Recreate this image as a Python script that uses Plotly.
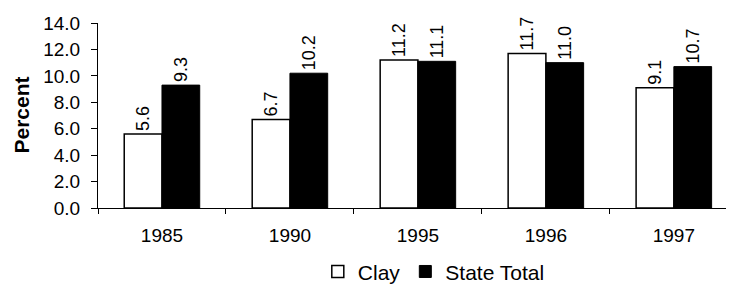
import plotly.graph_objects as go

years = ["1985", "1990", "1995", "1996", "1997"]
clay = [5.6, 6.7, 11.2, 11.7, 9.1]
state_total = [9.3, 10.2, 11.1, 11.0, 10.7]
y_ticks = [0, 2, 4, 6, 8, 10, 12, 14]

FONT = "Arial, Liberation Sans, sans-serif"

fig = go.Figure()
fig.add_trace(go.Bar(
    x=years, y=clay, name="Clay",
    marker=dict(color="white", line=dict(color="black", width=1.5)),
    text=[f"{v:.1f}" for v in clay], textposition="outside", textangle=-90,
    textfont=dict(family=FONT, size=18, color="black"),
    cliponaxis=False,
))
fig.add_trace(go.Bar(
    x=years, y=state_total, name="State Total",
    marker=dict(color="black", line=dict(color="black", width=1)),
    text=[f"{v:.1f}" for v in state_total], textposition="outside", textangle=-90,
    textfont=dict(family=FONT, size=18, color="black"),
    cliponaxis=False,
))

# the page body has an 8px margin, so the figure is offset by (8, 8)
fig.update_layout(
    width=726, height=279,
    margin=dict(l=90, r=0, t=15, b=79, autoexpand=False),
    paper_bgcolor="white", plot_bgcolor="white",
    barmode="group", bargap=0.41, bargroupgap=0,
    font=dict(family=FONT, size=19, color="black"),
    showlegend=True,
    legend=dict(orientation="h", x=0.528, xanchor="center", y=-0.345, yanchor="middle",
                font=dict(size=21), itemwidth=30, traceorder="normal",
                bgcolor="rgba(0,0,0,0)"),
)
fig.update_xaxes(
    type="category", range=[-0.5, 4.47], showline=True, linecolor="black", linewidth=1,
    ticks="outside", tickson="boundaries", ticklen=5, tickcolor="black",
    showgrid=False, zeroline=False, automargin=False, tickfont=dict(size=19),
    ticklabelstandoff=10,
)
fig.update_yaxes(
    range=[0, 14], tickvals=y_ticks, tickformat=".1f",
    showline=True, linecolor="black", linewidth=1,
    ticks="outside", ticklen=6, tickcolor="black",
    showgrid=False, zeroline=False, automargin=False, tickfont=dict(size=19),
    ticklabelstandoff=7,
)
fig.add_annotation(
    text="<b>Percent</b>", xref="paper", yref="paper", x=-0.121, y=0.5,
    textangle=-90, showarrow=False, font=dict(size=21, color="black"),
    xanchor="center", yanchor="middle", borderpad=0,
)
fig.write_html("out.html")
